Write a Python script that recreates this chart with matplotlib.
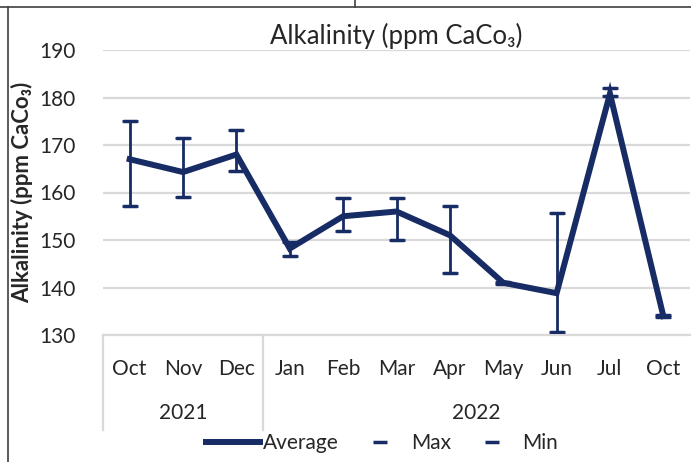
import matplotlib
matplotlib.use("Agg")
import matplotlib.pyplot as plt
from matplotlib.lines import Line2D
import matplotlib.transforms as mtransforms
import numpy as np

months = ["Oct", "Nov", "Dec", "Jan", "Feb", "Mar", "Apr", "May", "Jun", "Jul", "Oct"]
years = ["2021", "2022"]
year_counts = [3, 8]

average = [167.0, 164.3, 168.0, 148.2, 155.0, 156.0, 151.0, 141.0, 138.8, 180.8, 134.0]
maximum = [175.0, 171.5, 173.2, 149.5, 158.8, 158.8, 157.2, 141.2, 155.6, 182.1, 134.3]
minimum = [157.2, 159.0, 164.6, 146.6, 152.0, 150.0, 143.0, 140.8, 130.6, 180.3, 133.7]

navy = "#172B65"
grid_col = "#D9D9D9"
txt = "#262626"
fonts = ["Lato", "DejaVu Sans"]
plt.rcParams["font.family"] = fonts

W, H = 691, 462
fig = plt.figure(figsize=(W / 100, H / 100), dpi=100)
ax = fig.add_axes([103 / W, 1 - 335 / H, 587 / W, 285 / H])

x = np.arange(len(months))
avg = np.array(average)
yerr = [avg - np.array(minimum), np.array(maximum) - avg]

ax.errorbar(x, avg, yerr=yerr, fmt="none", ecolor=navy, elinewidth=2,
            capsize=6, capthick=2, zorder=3)
ax.plot(x, avg, color=navy, lw=4.3, solid_joinstyle="miter", zorder=4, label="Average")
ax.plot(x, maximum, ls="none", marker="_", ms=9.5, mew=2.5, color=navy, zorder=2, label="Max")
ax.plot(x, minimum, ls="none", marker="_", ms=9.5, mew=2.5, color=navy, zorder=2, label="Min")

ax.set_xlim(-0.5, len(months) - 0.5)
ax.set_ylim(130, 190)
ax.set_yticks(np.arange(130, 191, 10))
ax.yaxis.grid(True, color=grid_col, lw=1.6)
ax.set_axisbelow(True)
for s in ["top", "right", "left"]:
    ax.spines[s].set_visible(False)
ax.spines["bottom"].set_color(grid_col)
ax.spines["bottom"].set_linewidth(1.6)
ax.tick_params(axis="y", length=0, pad=20, labelsize=15, labelcolor=txt)
ax.set_xticks(x)
ax.set_xticklabels(months)
ax.tick_params(axis="x", length=0, pad=17, labelsize=15, labelcolor=txt)

ax.set_ylabel("Alkalinity (ppm CaCo₃)", fontsize=16, fontweight="bold", color=txt, labelpad=4)
ax.set_title("Alkalinity (ppm CaCo₃)", fontsize=18.5, color=txt, pad=4)

# hierarchical year axis
trans = mtransforms.blended_transform_factory(ax.transData, ax.transAxes)
axis_h = 285
start = -0.5
bounds = [start]
for yr, n in zip(years, year_counts):
    mid = start + n / 2
    ax.text(mid, -78 / axis_h, yr, transform=trans, ha="center", va="center",
            fontsize=15, color=txt)
    start += n
    bounds.append(start)
for b in bounds[:-1]:
    ax.add_line(Line2D([b, b], [0, -95 / axis_h], transform=trans, color=grid_col,
                       lw=1.6, clip_on=False))

fig.legend(loc="center", bbox_to_anchor=(382 / W, 1 - 443 / H), ncol=3, frameon=False,
           fontsize=15, handlelength=2.6, handletextpad=0.15, columnspacing=0.7,
           labelcolor=txt)

# spreadsheet cell borders
fig.add_artist(Line2D([0, 1], [1 - 7 / H, 1 - 7 / H], color="#404040", lw=1.2))
fig.add_artist(Line2D([8 / W, 8 / W], [0, 1 - 7 / H], color="#404040", lw=1.2))
fig.add_artist(Line2D([355 / W, 355 / W], [1 - 7 / H, 1], color="#404040", lw=1.2))

fig.savefig("out.png", dpi=100)
